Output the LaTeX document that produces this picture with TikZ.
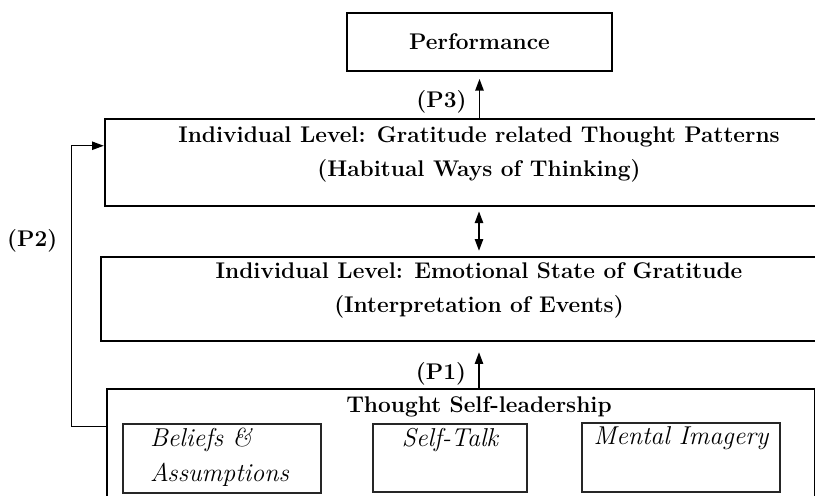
\documentclass[tikz,border=0pt]{standalone}
\usepackage{tikz}
\usetikzlibrary{arrows.meta,positioning}
\newlength{\pxunit}
\setlength{\pxunit}{0.6pt}
% box text: width, height, top gap, alignment, text
\newcommand{\boxtext}[5]{\parbox[c][#2\pxunit][t]{#1\pxunit}{\vspace*{#3\pxunit}#4#5}}

\begin{document}
\begin{tikzpicture}[x=0.6pt, y=-0.6pt,
  box/.style={draw, line width=1.5pt, inner sep=0pt, font=\fontsize{13.6}{20.2}\selectfont\bfseries},
  subbox/.style={draw=black!85, line width=0.9pt, inner sep=0pt, font=\fontsize{15.5}{21}\selectfont\itshape},
  arr/.style={-{Triangle[length=7pt,width=5pt]}, line width=0.9pt},
  arrboth/.style={{Triangle[length=7pt,width=5pt]}-{Triangle[length=7pt,width=5pt]}, line width=0.9pt},
  tag/.style={font=\fontsize{13.6}{16}\selectfont\bfseries}]
  \useasboundingbox (0,0) rectangle (815,496);

  \node[box, minimum width=265*0.6pt, minimum height=58*0.6pt] (perf) at (479.5,42) {Performance};
  \node[box] (habit) at (479,162.5) {\boxtext{748}{87}{8}{\centering}{Individual Level: Gratitude related Thought Patterns\\(Habitual Ways of Thinking)}};
  \node[box] (emo) at (479,299) {\boxtext{756}{84}{6}{\centering}{Individual Level: Emotional State of Gratitude\\(Interpretation of Events)}};
  \node[box] (tsl) at (461,449.5) {\boxtext{708}{121}{8}{\centering\hspace*{36\pxunit}}{Thought Self-leadership}};

  % strategies
  \node[subbox] (beliefs) at (222,458.5) {\boxtext{198}{69}{4}{\raggedright\leftskip=27\pxunit}{Beliefs \&\\Assumptions}};
  \node[subbox] (talk) at (450,458) {\boxtext{154}{68}{4}{\centering}{Self-Talk}};
  \node[subbox] (imagery) at (681,457.5) {\boxtext{198}{69}{4}{\centering}{Mental Imagery}};

  \draw[arr, shorten >=4pt] (habit.north -| perf.south) -- node[tag, left=4pt, pos=0.35] {(P3)} (perf.south);
  \draw[arrboth, shorten <=2.5pt, shorten >=3pt] (habit.south) -- (emo.north);
  \draw[arr, shorten >=6pt] (tsl.north -| emo.south) -- node[tag, left=4pt, pos=0.31] {(P1)} (emo.south);
  \draw[arr, line width=0.7pt] ([yshift=-39*0.6pt]tsl.north west) -- ++(-34,0)
    |- node[tag, left=5pt, pos=0.33] {(P2)} ([yshift=-28*0.6pt]habit.north west);
\end{tikzpicture}
\end{document}
